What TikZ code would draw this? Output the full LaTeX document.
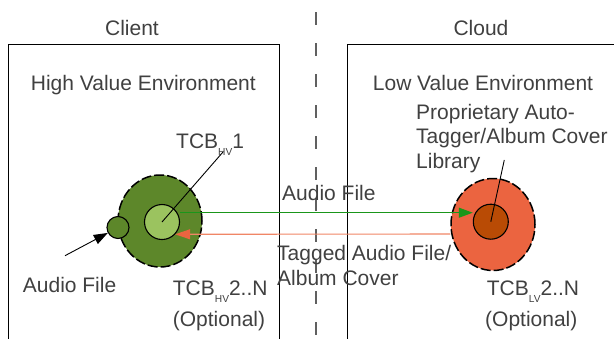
\documentclass[tikz,border=0pt]{standalone}
\usepackage{fontspec}
\setmainfont{Liberation Sans}
\usetikzlibrary{arrows.meta,shapes.geometric}

\definecolor{txtgray}{HTML}{404040}
\definecolor{divgray}{HTML}{606060}
\definecolor{hvdark}{HTML}{5D872A}
\definecolor{hvlight}{HTML}{9BC35F}
\definecolor{lvbright}{HTML}{EB6440}
\definecolor{lvdark}{HTML}{B94B05}
\definecolor{sendgreen}{HTML}{1A961A}
\definecolor{backorange}{HTML}{F08666}
\definecolor{backhead}{HTML}{EB6440}

% subscript set lower and smaller than the main text
\newcommand\tcbsub[1]{\raisebox{-7pt}{\fontsize{10.2}{10}\selectfont #1}}

\tikzset{
  lbl/.style={anchor=base west, inner sep=0pt, text=txtgray},
  title/.style={anchor=base, inner sep=0pt, text=txtgray},
  envbox/.style={draw=black, line width=1.2pt},
  divider/.style={draw=divgray, line width=1.3pt, dash pattern=on 13pt off 18pt},
  tcbring/.style={ellipse, draw=black, line width=1.5pt, dash pattern=on 10pt off 3pt,
                  minimum width=84pt, minimum height=92pt, inner sep=0pt},
  tcbcore/.style={circle, draw=black, line width=1.1pt, minimum size=35pt, inner sep=0pt},
  pointer/.style={draw=black, line width=0.9pt},
  sendarrow/.style={draw=sendgreen, line width=1.1pt,
                    -{Triangle[length=14pt,width=10pt,fill=sendgreen]}},
  backarrow/.style={draw=backorange, line width=1.1pt,
                    -{Triangle[length=15pt,width=10pt,color=backhead,fill=backhead]}},
  inarrow/.style={draw=black, line width=0.9pt,
                  -{Triangle[length=14pt,width=10pt,fill=black]}}
}

\begin{document}
\begin{tikzpicture}[x=1pt, y=-1pt, font=\fontsize{21}{24}\selectfont]
  \useasboundingbox (0,0) rectangle (614,338);

  % column titles and the boundary between them
  \node[title] (client) at (132,35) {Client};
  \node[title] (cloud) at (481,35) {Cloud};
  \draw[divider] (316,12) -- (316,340);

  % the two environments (open at the bottom)
  \draw[envbox] (8.3,342) -- (8.3,44.3) -- (279.3,44.3) -- (279.3,342);
  \draw[envbox] (347.3,342) -- (347.3,44.3) -- (618,44.3);

  \node[lbl] (hvenv) at (30.7,90) {High Value Environment};
  \node[lbl] (lvenv) at (372.7,90) {Low Value Environment};

  % trusted computing bases
  \node[tcbring, fill=hvdark] (hvbig) at (160,221) {};
  \node[tcbcore, fill=hvlight] (hvin) at (162,222) {};
  \node[circle, draw=black, line width=1.1pt, fill=hvdark, minimum size=22pt, inner sep=0pt]
       (hvsmall) at (118,227.5) {};

  \node[tcbring, fill=lvbright] (lvbig) at (493,224.5) {};
  \node[tcbcore, fill=lvdark] (lvin) at (490.8,221.7) {};

  % data flow between client and cloud
  \draw[sendarrow] (hvin.east |- 0,212.7) -- (lvin.west |- 0,212.7);
  \draw[backarrow] (lvbig.west |- 0,234) -- (hvin.-43.3);

  % labels and their pointers
  \node[lbl] (tcbhv1) at (176,148) {TCB\tcbsub{HV}1};
  \coordinate (hvtip) at (223,152);
  \draw[pointer] (hvin.center) -- (hvtip);

  \node[lbl] (lib1) at (416,119) {Proprietary Auto-};
  \node[lbl] (lib2) at (416,143.5) {Tagger/Album Cover};
  \node[lbl] (lib3) at (416,168) {Library};
  \coordinate (lvtip) at (504.3,160);
  \draw[pointer] (lvin.center) -- (lvtip);

  \node[lbl] (sendlbl) at (282,200) {Audio File};
  \node[lbl] (back1) at (277,260.7) {Tagged Audio File/};
  \node[lbl] (back2) at (277,285.7) {Album Cover};

  \node[lbl] (inlbl) at (22.7,292) {Audio File};
  \coordinate (intail) at (65,255.7);
  \draw[inarrow] (intail) -- (hvsmall);

  \node[lbl] (tcbhv2) at (172.7,295) {TCB\tcbsub{HV}2..N};
  \node[lbl] (opthv) at (172.7,326) {(Optional)};
  \node[lbl] (tcblv2) at (486.7,295) {TCB\tcbsub{LV}2..N};
  \node[lbl] (optlv) at (485,326) {(Optional)};
\end{tikzpicture}
\end{document}
